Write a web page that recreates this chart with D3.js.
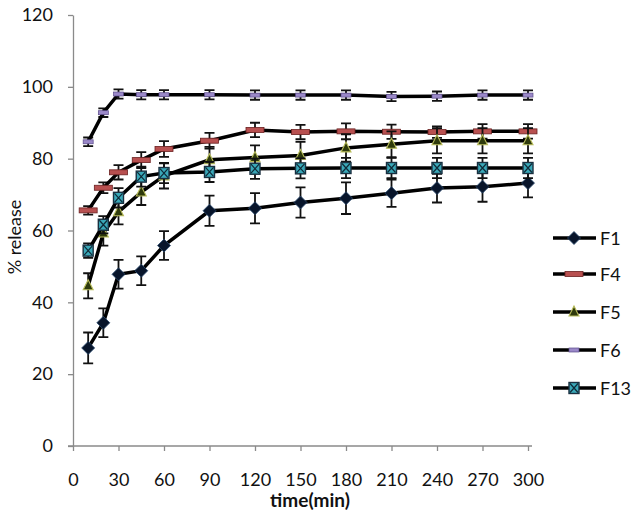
<!DOCTYPE html>
<html><head><meta charset="utf-8">
<script src="https://cdn.jsdelivr.net/npm/d3@7"></script>
<style>body{margin:0;background:#fff}svg{display:block}</style>
</head><body>
<script>
const times = [10,20,30,45,60,90,120,150,180,210,240,270,300];
const F1  = [27.3,34.3,47.8,48.8,55.8,65.5,66.2,67.8,69,70.4,71.8,72.2,73.2];
const F1e = [4.3,4,4,4,4,4.2,4.2,4.2,4.4,3.8,4,4.2,4];
const F4  = [65.6,71.9,76.2,79.6,82.7,85,88,87.4,87.6,87.5,87.4,87.6,87.6];
const F4e = [1.2,1.5,2,2.2,2.2,2.2,2,2,2.2,2,1.6,2,2];
const F5  = [44.6,59.3,65.2,70.7,75.2,79.7,80.3,80.9,83,84,85,85,85];
const F5e = [3.5,3.5,3.5,3.6,3.5,3.6,3.4,3.8,3.8,3.6,3.5,3.5,3.5];
const F6  = [84.7,92.8,98,97.8,97.8,97.8,97.7,97.7,97.7,97.3,97.4,97.7,97.7];
const F6e = [1.2,1.2,1.3,1.3,1.3,1.3,1.3,1.3,1.3,1.3,1.3,1.3,1.3];
const F13  = [54.4,61.6,69.1,75,76,76.3,77.2,77.3,77.4,77.4,77.4,77.4,77.4];
const F13e = [2,2.4,2.7,2.8,2.8,2.8,2.8,2.8,2.8,2.8,2.8,2.8,2.8];
const xTicks = [0,30,60,90,120,150,180,210,240,270,300];
const yTicks = [0,20,40,60,80,100,120];
const names = ["F1","F4","F5","F6","F13"];

const series = [
  {name:"F1", v:F1, e:F1e, marker:"diamond", fill:"#08152b", stroke:"#2a4a6e"},
  {name:"F4", v:F4, e:F4e, marker:"dash", fill:"#b85050", stroke:"#6a2020"},
  {name:"F5", v:F5, e:F5e, marker:"triangle", fill:"#2e3a0c", stroke:"#b8bc5a"},
  {name:"F6", v:F6, e:F6e, marker:"smalldash", fill:"#9a88c8", stroke:"#5a4a8a"},
  {name:"F13", v:F13, e:F13e, marker:"square", fill:"#3aa8b8", stroke:"#1a3040"}
];

const W=639,H=518;
const svg = d3.select("body").append("svg").attr("width",W).attr("height",H);
const x = d3.scaleLinear().domain([0,300]).range([73,528]);
const y = d3.scaleLinear().domain([0,120]).range([446,15]);
const font = "Lato, 'Open Sans', 'Liberation Sans', sans-serif";

// axes
const gx = svg.append("g").attr("transform","translate(0,446)")
  .call(d3.axisBottom(x).tickValues(xTicks).tickSize(5).tickPadding(22).tickSizeOuter(0));
const gy = svg.append("g").attr("transform","translate(73,0)")
  .call(d3.axisLeft(y).tickValues(yTicks).tickSize(5).tickPadding(15).tickSizeOuter(0));
[gx,gy].forEach(g=>{
  g.select(".domain").attr("stroke","#8a8a8a").attr("stroke-width",1.3);
  g.selectAll(".tick line").attr("stroke","#8a8a8a").attr("stroke-width",1.3);
  g.selectAll(".tick text").attr("fill","#111").attr("font-size","18px").attr("font-family",font);
});
gx.select(".domain").attr("d","M68,0H532");

svg.append("text").attr("x",310).attr("y",507).attr("text-anchor","middle")
  .attr("font-family",font).attr("font-size","19px").attr("font-weight","bold").attr("fill","#111").text("time(min)");
svg.append("text").attr("transform","translate(21,237) rotate(-90)").attr("text-anchor","middle")
  .attr("font-family",font).attr("font-size","18px").attr("fill","#111").text("% release");

function drawMarker(g, m, cx, cy, s){
  if(m==="diamond"){
    g.append("path").attr("d",`M${cx},${cy-6.5}L${cx+6.5},${cy}L${cx},${cy+6.5}L${cx-6.5},${cy}Z`)
      .attr("fill",s.fill).attr("stroke",s.stroke).attr("stroke-width",0.8);
  } else if(m==="dash"){
    g.append("rect").attr("x",cx-9).attr("y",cy-2.5).attr("width",18).attr("height",5)
      .attr("fill",s.fill).attr("stroke",s.stroke).attr("stroke-width",0.8);
  } else if(m==="triangle"){
    g.append("path").attr("d",`M${cx},${cy-6}L${cx+5},${cy+4}L${cx-5},${cy+4}Z`)
      .attr("fill",s.fill).attr("stroke",s.stroke).attr("stroke-width",1.1);
  } else if(m==="smalldash"){
    g.append("rect").attr("x",cx-5).attr("y",cy-2).attr("width",10).attr("height",4)
      .attr("fill",s.fill).attr("stroke",s.stroke).attr("stroke-width",0.7);
  } else if(m==="square"){
    g.append("rect").attr("x",cx-5).attr("y",cy-5.5).attr("width",10).attr("height",11)
      .attr("fill",s.fill).attr("stroke",s.stroke).attr("stroke-width",1.4);
    g.append("path").attr("d",`M${cx-4},${cy-4.5}L${cx+4},${cy+4.5}M${cx+4},${cy-4.5}L${cx-4},${cy+4.5}`)
      .attr("stroke","#0f2a38").attr("stroke-width",1.2);
  }
}

const line = d3.line().x(d=>x(d[0])).y(d=>y(d[1]));
series.forEach(s=>{
  const g = svg.append("g");
  const pts = times.map((t,i)=>[t,s.v[i],s.e[i]]);
  pts.forEach(p=>{
    const cx=x(p[0]), y1=y(p[1]+p[2]), y2=y(p[1]-p[2]);
    g.append("path").attr("d",`M${cx},${y1}V${y2}M${cx-5},${y1}H${cx+5}M${cx-5},${y2}H${cx+5}`)
      .attr("stroke","#111").attr("stroke-width",1.8).attr("fill","none");
  });
  g.append("path").datum(pts).attr("d",line).attr("fill","none").attr("stroke","#000").attr("stroke-width",3.5);
  pts.forEach(p=>drawMarker(g,s.marker,x(p[0]),y(p[1]),s));
});

// legend
const legY = [238,274,312,350,388];
series.forEach((s,i)=>{
  const g = svg.append("g");
  const ly = legY[i];
  g.append("line").attr("x1",553).attr("x2",596).attr("y1",ly).attr("y2",ly).attr("stroke","#000").attr("stroke-width",3.5);
  drawMarker(g,s.marker,574,ly,s);
  g.append("text").attr("x",600).attr("y",ly+6.5).attr("font-family",font).attr("font-size","18px").attr("fill","#111").text(s.name);
});
</script>
</body></html>
